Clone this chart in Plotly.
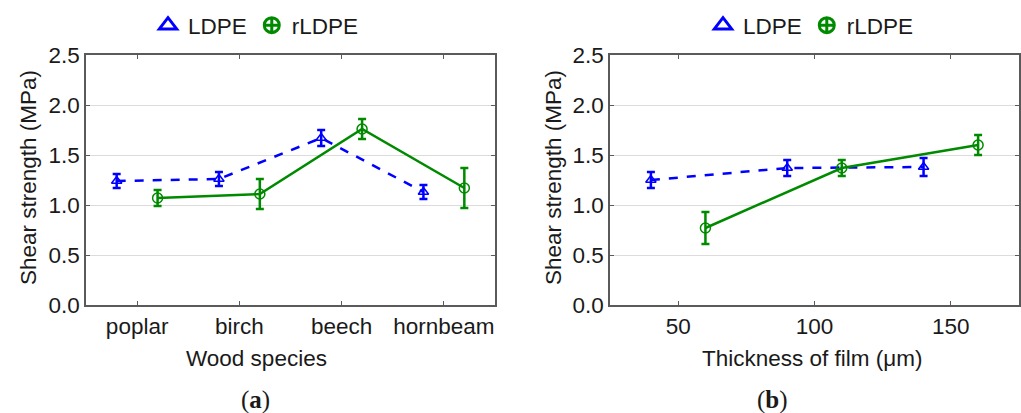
import plotly.graph_objects as go

# ---- data ----
species = ["poplar", "birch", "beech", "hornbeam"]
species_pos = [0.5, 1.5, 2.5, 3.5]
ldpe_species = [1.24, 1.26, 1.67, 1.13]
ldpe_species_err = [0.07, 0.07, 0.08, 0.07]
rldpe_species = [1.07, 1.11, 1.76, 1.17]
rldpe_species_err = [0.08, 0.15, 0.10, 0.20]

thick_ldpe = [40, 90, 140]
ldpe_thick = [1.25, 1.37, 1.38]
ldpe_thick_err = [0.08, 0.08, 0.09]
thick_rldpe = [60, 110, 160]
rldpe_thick = [0.77, 1.37, 1.60]
rldpe_thick_err = [0.16, 0.08, 0.10]

y_ticks = [0.0, 0.5, 1.0, 1.5, 2.0, 2.5]
x_ticks_b = [50, 100, 150]

BLUE = "#0000FF"
GREEN = "#008A00"
FONT = "Liberation Sans, Arial, sans-serif"
FS = 22.5
W, H = 1021, 413

def px(x):
    return x / W

def py(y):
    return 1 - y / H

fig = go.Figure()

offset = 0.2
def ldpe_trace(x, y, e, xa, ya):
    return go.Scatter(x=x, y=y, xaxis=xa, yaxis=ya, mode="lines+markers",
                      line=dict(color=BLUE, width=2.5, dash="dash"),
                      marker=dict(symbol="triangle-up-open", size=9, color=BLUE, line=dict(width=1.5)),
                      error_y=dict(type="data", array=e, color=BLUE, thickness=2.5, width=4),
                      showlegend=False)

def rldpe_trace(x, y, e, xa, ya):
    return go.Scatter(x=x, y=y, xaxis=xa, yaxis=ya, mode="lines+markers",
                      line=dict(color=GREEN, width=2.5),
                      marker=dict(symbol="circle-open", size=10, color=GREEN, line=dict(width=1.5)),
                      error_y=dict(type="data", array=e, color=GREEN, thickness=2.5, width=4),
                      showlegend=False)

fig.add_trace(ldpe_trace([p - offset for p in species_pos], ldpe_species, ldpe_species_err, "x", "y"))
fig.add_trace(rldpe_trace([p + offset for p in species_pos], rldpe_species, rldpe_species_err, "x", "y"))
fig.add_trace(ldpe_trace(thick_ldpe, ldpe_thick, ldpe_thick_err, "x2", "y2"))
fig.add_trace(rldpe_trace(thick_rldpe, rldpe_thick, rldpe_thick_err, "x2", "y2"))

# legend-only entries
for lg in ["legend", "legend2"]:
    fig.add_trace(go.Scatter(x=[None], y=[None], mode="markers", name="LDPE", legend=lg,
                             marker=dict(symbol="triangle-up-open", size=15, color=BLUE, line=dict(width=3))))
    fig.add_trace(go.Scatter(x=[None], y=[None], mode="markers", name="rLDPE", legend=lg,
                             marker=dict(symbol="circle-cross-open", size=15, color=GREEN, line=dict(width=3))))

axis_common = dict(showline=True, linecolor="#5a5a5a", linewidth=1.5, mirror="ticks",
                   ticks="inside", ticklen=4, tickcolor="#5a5a5a", zeroline=False,
                   automargin=False,
                   tickfont=dict(family=FONT, size=FS, color="#1a1a1a"))

fig.update_layout(
    width=W, height=H, margin=dict(l=0, r=0, t=0, b=0, autoexpand=False),
    plot_bgcolor="white", paper_bgcolor="white",
    font=dict(family=FONT, size=FS, color="#1a1a1a"),
    xaxis=dict(domain=[px(86), px(495)], range=[0, 4], tickvals=species_pos, ticktext=species,
               showgrid=False, **axis_common),
    yaxis=dict(domain=[py(305), py(55)], range=[0, 2.5], tickvals=y_ticks,
               ticktext=[f"{v:.1f}" for v in y_ticks], showgrid=True, gridcolor="#dcdcdc",
               gridwidth=1, **axis_common),
    xaxis2=dict(domain=[px(610), px(1019)], range=[25, 175], tickvals=x_ticks_b,
                showgrid=False, anchor="y2", **axis_common),
    yaxis2=dict(domain=[py(305), py(55)], range=[0, 2.5], tickvals=y_ticks,
                ticktext=[f"{v:.1f}" for v in y_ticks], showgrid=True, gridcolor="#dcdcdc",
                gridwidth=1, anchor="x2", **axis_common),
    legend=dict(orientation="h", x=px(148), y=py(4), xanchor="left", yanchor="top",
                font=dict(family=FONT, size=FS), bgcolor="rgba(0,0,0,0)", itemwidth=30),
    legend2=dict(orientation="h", x=px(703), y=py(4), xanchor="left", yanchor="top",
                 font=dict(family=FONT, size=FS), bgcolor="rgba(0,0,0,0)", itemwidth=30),
)

ann = []
ann.append(dict(text="Shear strength (MPa)", x=px(28), y=py(178), textangle=-90))
ann.append(dict(text="Shear strength (MPa)", x=px(553), y=py(178), textangle=-90))
ann.append(dict(text="Wood species", x=px(256), y=py(358)))
ann.append(dict(text="Thickness of film (μm)", x=px(812), y=py(358)))
for a in ann:
    a.update(xref="paper", yref="paper", showarrow=False, xanchor="center", yanchor="middle",
             font=dict(family=FONT, size=FS, color="#1a1a1a"))
    fig.add_annotation(**a)

for lab, xc in [("a", 255), ("b", 772)]:
    fig.add_annotation(text=f"(<b>{lab}</b>)", x=px(xc), y=py(400), xref="paper", yref="paper",
                       showarrow=False, xanchor="center", yanchor="middle",
                       font=dict(family="Liberation Serif, serif", size=25, color="#1a1a1a"))

fig.write_html("out.html", config={"displayModeBar": False},
               post_script="document.body.style.margin='0';document.body.style.overflow='hidden';")
